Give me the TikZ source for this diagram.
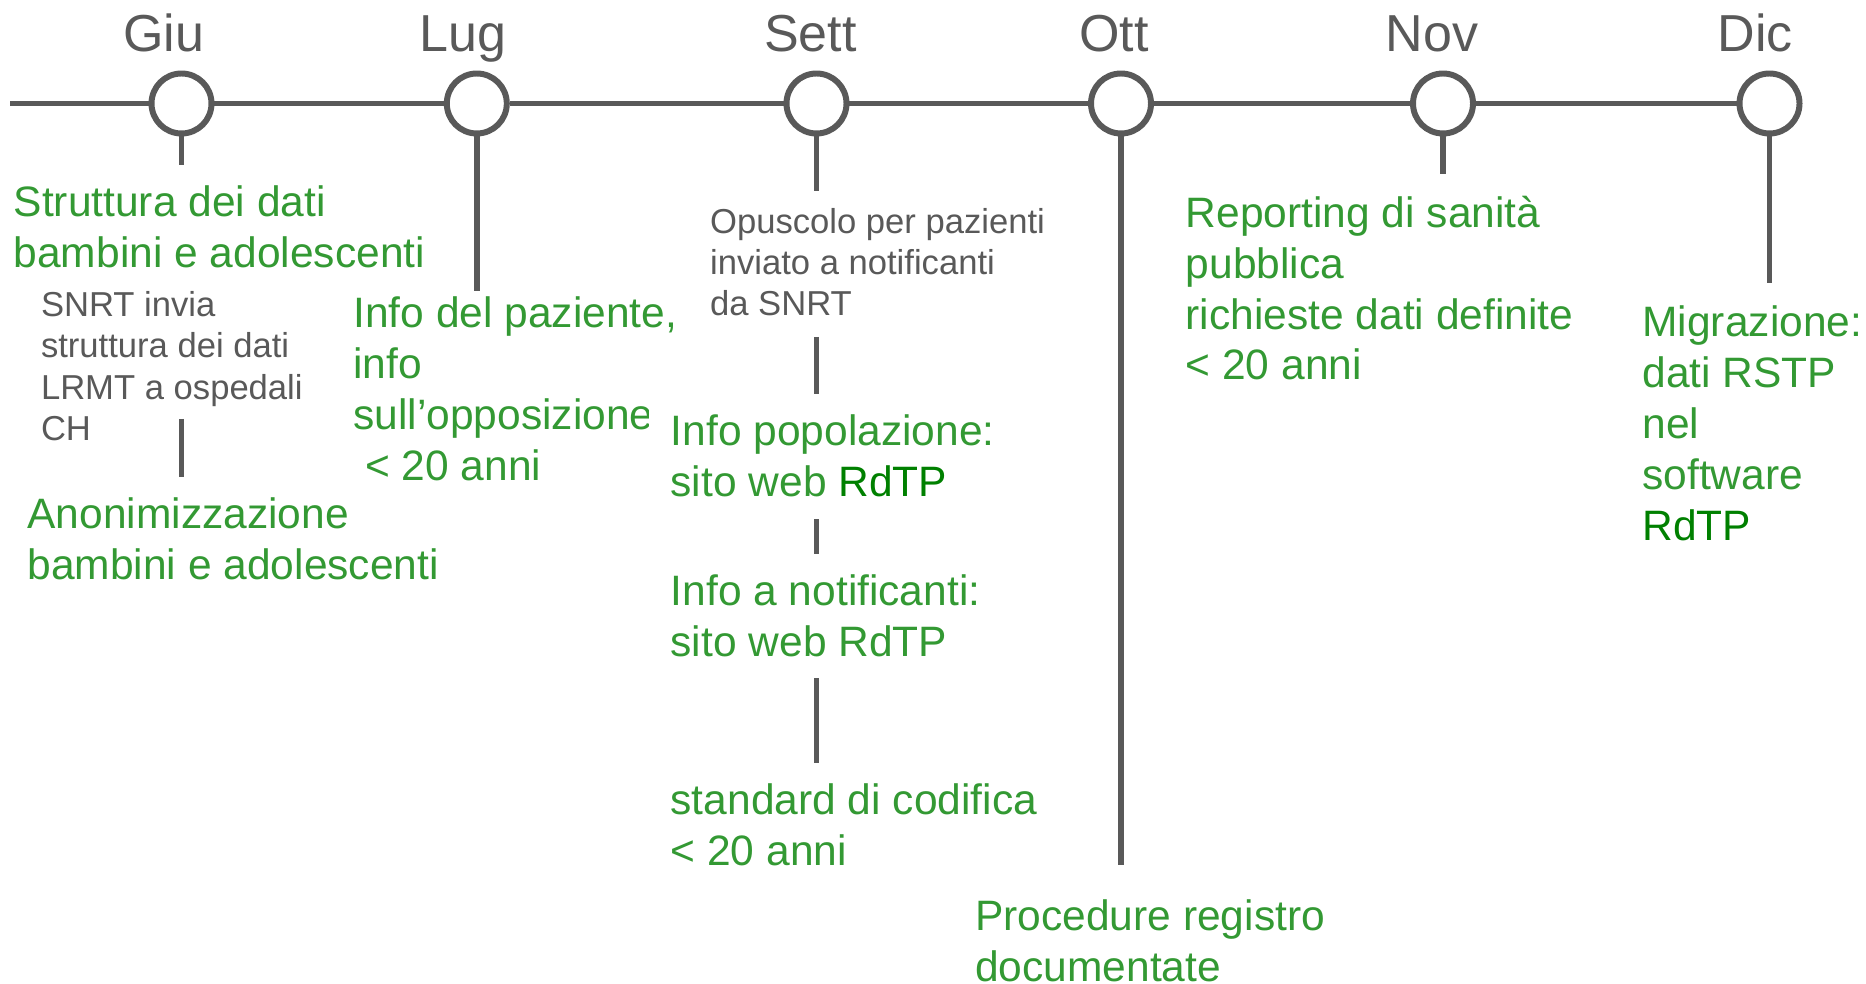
\documentclass[tikz,border=0pt]{standalone}
\usepackage{fontspec}
\setmainfont{Liberation Sans}
\definecolor{tlgray}{HTML}{595959}
\definecolor{tlgreen}{HTML}{339933}
\definecolor{tldark}{HTML}{008000}
\begin{document}
\begin{tikzpicture}[x=0.1mm, y=-0.1mm,
    month/.style={anchor=base, inner sep=0, text=tlgray, font=\fontsize{14.8}{17.8}\selectfont},
    dot/.style={circle, draw=tlgray, line width=1.7pt, fill=white, minimum size=6mm, inner sep=0},
    stem/.style={draw=tlgray, line width=1.6pt},
    task/.style={anchor=base west, inner sep=0, align=left, text=tlgreen, font=\fontsize{12.1}{14.5}\selectfont},
    note/.style={anchor=base west, inner sep=0, align=left, text=tlgray, font=\fontsize{9.85}{11.8}\selectfont}]
\useasboundingbox (0,0) rectangle (1866,984);
% months
\node[month] (mgiu) at (164,51.5) {Giu};
\node[month] (mlug) at (463,51.5) {Lug};
\node[month] (msett) at (810.5,51.5) {Sett};
\node[month] (mott) at (1114,51.5) {Ott};
\node[month] (mnov) at (1432,51.5) {Nov};
\node[month] (mdic) at (1755,51.5) {Dic};
% timeline
\coordinate (start) at (10,103.5);
\node[dot] (giu) at (181.5,103.5) {};
\node[dot] (lug) at (476.8,103.5) {};
\node[dot] (sett) at (816.5,103.5) {};
\node[dot] (ott) at (1121,103.5) {};
\node[dot] (nov) at (1443,103.5) {};
\node[dot] (dic) at (1769.5,103.5) {};
\draw[stem, line width=1.45pt] (start) -- (giu) -- (lug) -- (sett) -- (ott) -- (nov) -- (dic);
% stems
\coordinate (giu1) at (181.5,165);
\coordinate (giu2) at (181.5,419);
\coordinate (giu3) at (181.5,477);
\coordinate (lug1) at (476.8,291);
\coordinate (sett1) at (816.5,190.7);
\coordinate (sett2) at (816.5,337);
\coordinate (sett3) at (816.5,394);
\coordinate (sett4) at (816.5,519);
\coordinate (sett5) at (816.5,553.5);
\coordinate (sett6) at (816.5,678);
\coordinate (sett7) at (816.5,763);
\coordinate (ott1) at (1121,865);
\coordinate (nov1) at (1443,174);
\coordinate (dic1) at (1769.5,283);
\draw[stem] (giu) -- (giu1);
\draw[stem] (giu2) -- (giu3);
\draw[stem] (lug) -- (lug1);
\draw[stem] (sett) -- (sett1);
\draw[stem] (sett2) -- (sett3);
\draw[stem] (sett4) -- (sett5);
\draw[stem] (sett6) -- (sett7);
\draw[stem] (ott) -- (ott1);
\draw[stem] (nov) -- (nov1);
\draw[stem] (dic) -- (dic1);
% texts (placed by the baseline of their last line)
\node[task] (struttura) at (13,267.7) {Struttura dei dati\\bambini e adolescenti};
\node[note] (snrt) at (40.3,440.5) {SNRT invia\\struttura dei dati\\LRMT a ospedali\\CH};
\node[task] (anonim) at (26.8,579.5) {Anonimizzazione\\bambini e adolescenti};
\begin{scope}
  % the box of the next text hides the end of sull'opposizione
  \clip (0,0) -- (1866,0) -- (1866,380) -- (648,380) -- (648,984) -- (0,984) -- cycle;
  \node[task] (paziente) at (352.7,480.6) {Info del paziente,\\info\\sull’opposizione\\~< 20 anni};
\end{scope}
\node[note] (opuscolo) at (709.4,316) {Opuscolo per pazienti\\inviato a notificanti\\da SNRT};
\node[task] (popolazione) at (670,496.7) {Info popolazione:\\sito web \textcolor{tldark}{RdTP}};
\node[task] (notificanti) at (670,656.5) {Info a notificanti:\\sito web RdTP};
\node[task] (codifica) at (670,865.5) {standard di codifica\\< 20 anni};
\node[task] (procedure) at (974.5,981.5) {Procedure registro\\documentate};
\node[task] (reporting) at (1185,380) {Reporting di sanità\\pubblica\\richieste dati definite\\< 20 anni};
\node[task] (migrazione) at (1641.7,540.7) {Migrazione:\\dati RSTP\\nel\\software\\\textcolor{tldark}{RdTP}};
\end{tikzpicture}
\end{document}
